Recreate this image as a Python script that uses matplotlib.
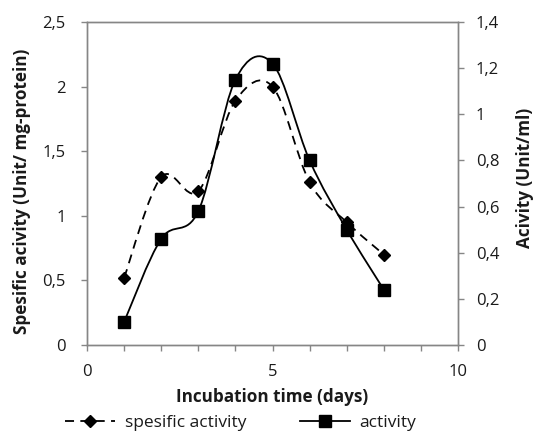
import matplotlib
matplotlib.use("Agg")
import matplotlib.pyplot as plt
from matplotlib.path import Path
from matplotlib.patches import PathPatch
from matplotlib.lines import Line2D
from matplotlib.ticker import FuncFormatter, MultipleLocator

plt.rcParams['font.family'] = ['Open Sans', 'DejaVu Sans']

days = [1, 2, 3, 4, 5, 6, 7, 8]
specific_activity = [0.52, 1.30, 1.19, 1.89, 2.00, 1.26, 0.95, 0.70]
activity = [0.10, 0.46, 0.58, 1.15, 1.22, 0.80, 0.50, 0.24]

left_ticks = [0, 0.5, 1, 1.5, 2, 2.5]
right_ticks = [0, 0.2, 0.4, 0.6, 0.8, 1.0, 1.2, 1.4]
x_ticks = [0, 5, 10]

spine_col = '#868686'
text_col = '#1a1a1a'


def comma(v, pos=None):
    s = ('%.1f' % v).rstrip('0').rstrip('.')
    return s.replace('.', ',')


def smooth_path(xs, ys):
    pts = list(zip(xs, ys))
    verts = [pts[0]]
    codes = [Path.MOVETO]
    n = len(pts)
    for i in range(n - 1):
        p0 = pts[i - 1] if i > 0 else pts[i]
        p1 = pts[i]
        p2 = pts[i + 1]
        p3 = pts[i + 2] if i + 2 < n else pts[i + 1]
        c1 = (p1[0] + (p2[0] - p0[0]) / 6.0, p1[1] + (p2[1] - p0[1]) / 6.0)
        c2 = (p2[0] - (p3[0] - p1[0]) / 6.0, p2[1] - (p3[1] - p1[1]) / 6.0)
        verts += [c1, c2, p2]
        codes += [Path.CURVE4] * 3
    return Path(verts, codes)


W, H = 536, 432
fig = plt.figure(figsize=(W / 100, H / 100), dpi=100)
L, R, T, B = 87, 458, 22, 345
ax = fig.add_axes([L / W, 1 - B / H, (R - L) / W, (B - T) / H])
ax2 = ax.twinx()

ax.set_xlim(0, 10)
ax.set_ylim(0, 2.5)
ax2.set_ylim(0, 1.4)

dash = (0, (5, 3.5))
# specific activity (dashed, diamonds) on left axis
ax.add_patch(PathPatch(smooth_path(days, specific_activity), fill=False,
                       edgecolor='black', lw=1.3, linestyle=dash))
ax.plot(days, specific_activity, linestyle='none', marker='D', ms=6.5,
        color='black', zorder=3)

# activity (solid, squares) on right axis
ax2.add_patch(PathPatch(smooth_path(days, activity), fill=False,
                        edgecolor='black', lw=1.3))
ax2.plot(days, activity, linestyle='none', marker='s', ms=8,
         color='black', zorder=3)

for a in (ax, ax2):
    for s in a.spines.values():
        s.set_color(spine_col)
        s.set_linewidth(1.0)
    a.tick_params(colors=spine_col, labelcolor=text_col, labelsize=12,
                  length=4.3, width=1)

ax.set_xticks(x_ticks)
ax.xaxis.set_minor_locator(MultipleLocator(1))
ax.tick_params(axis='x', which='minor', length=4.3, width=1, colors=spine_col)
ax.set_yticks(left_ticks)
ax.yaxis.set_major_formatter(FuncFormatter(comma))
ax2.set_yticks(right_ticks)
ax2.yaxis.set_major_formatter(FuncFormatter(comma))
ax.tick_params(axis='y', pad=11)
ax2.tick_params(axis='y', pad=8.5)
ax.tick_params(axis='x', pad=9.5)

ax.set_xlabel('Incubation time (days)', fontsize=12.3, fontweight='bold',
              color=text_col)
ax.xaxis.label.set_va('center')
ax.xaxis.set_label_coords(0.5, (B - 396.7) / (B - T))

ax.set_ylabel('Spesific acivity (Unit/ mg-protein)', fontsize=12.3,
              fontweight='bold', color=text_col)
ax.yaxis.label.set_va('center')
ax.yaxis.set_label_coords((22 - L) / (R - L), (B - 191.5) / (B - T))

ax2.set_ylabel('Acivity (Unit/ml)', fontsize=12.3, fontweight='bold',
               color=text_col)
ax2.yaxis.label.set_va('center')
ax2.yaxis.set_label_coords((525 - L) / (R - L), (B - 178) / (B - T))

handles = [
    Line2D([], [], color='black', lw=1.3, linestyle=dash, marker='D',
           ms=6.5),
    Line2D([], [], color='black', lw=1.3, marker='s', ms=8),
]
leg = fig.legend(handles, ['spesific activity', 'activity'],
                 loc='center left', bbox_to_anchor=(65 / W, 1 - 422.7 / H),
                 ncol=2, frameon=False, fontsize=12.5, handlelength=2.88,
                 columnspacing=3.1, numpoints=1, handletextpad=0.55,
                 borderpad=0, borderaxespad=0)
for t in leg.get_texts():
    t.set_color(text_col)

fig.savefig('out.png', dpi=100)
